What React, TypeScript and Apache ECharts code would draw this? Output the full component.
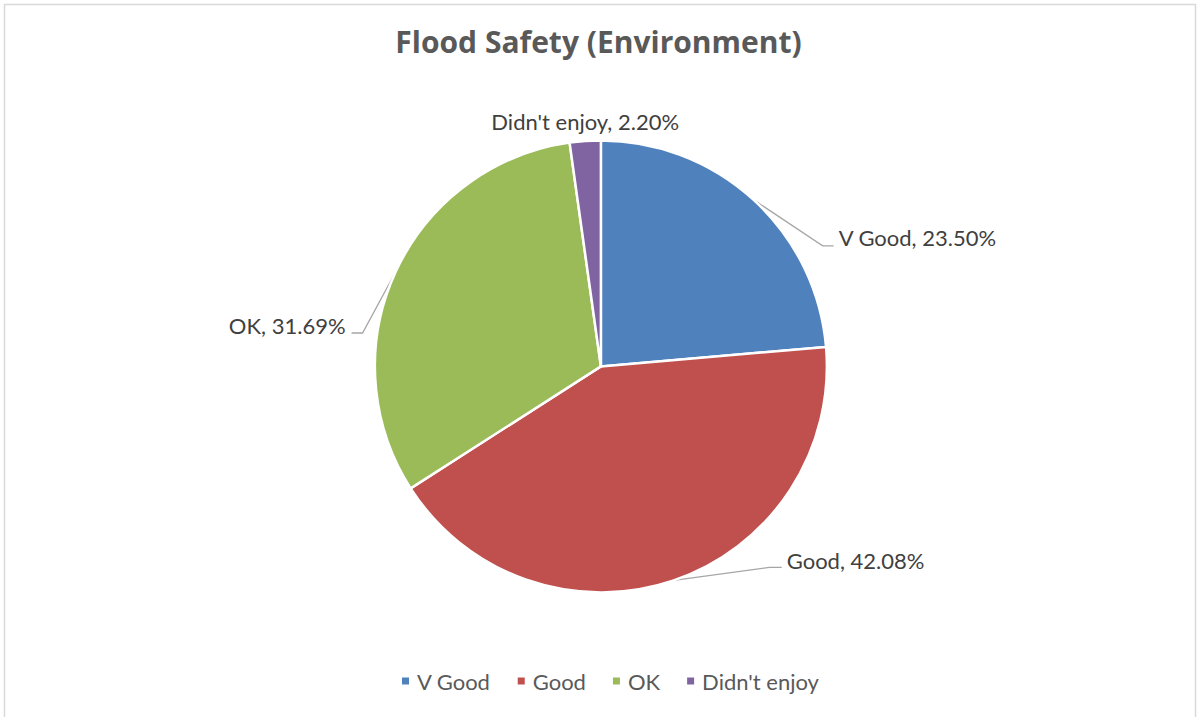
import React, { useEffect, useRef } from "react";
import * as echarts from "echarts";

const categories = ["V Good", "Good", "OK", "Didn't enjoy"];
const values = [23.5, 42.08, 31.69, 2.2];
const colors = ["#4f81bd", "#c0504d", "#9bbb59", "#8064a2"];
const titleText = "Flood Safety (Environment)";

// label placement relative to the slice's outer edge point (layout only)
const labelOffsets = [
  { dx: 85, dy: 38, align: "left", mid: [69, 46], end: [80, 46] },
  { dx: 113, dy: -20, align: "left", mid: [96, -13], end: [108, -13] },
  { dx: -50, dy: 54, align: "right", mid: [-33, 61], end: [-44, 61] },
  { dx: 0, dy: -19, align: "center", mid: [0, 0], end: [0, 0] },
];

export default function App() {
  const ref = useRef<HTMLDivElement>(null);
  useEffect(() => {
    if (!ref.current) return;
    const chart = echarts.init(ref.current, undefined, { renderer: "svg" });
    const font = "Lato, 'Open Sans', sans-serif";
    chart.setOption({
      animation: false,
      backgroundColor: "#ffffff",
      color: colors,
      title: {
        text: titleText,
        left: "center",
        top: 26,
        padding: 0,
        textStyle: { fontFamily: "'Open Sans', sans-serif", fontWeight: "bold", fontSize: 30, color: "#595959" },
      },
      legend: {
        bottom: 20,
        left: 395,
        itemWidth: 9,
        itemHeight: 9,
        itemGap: 25,
        icon: "rect",
        data: categories,
        textStyle: { fontFamily: font, fontSize: 22, color: "#595959", padding: [0, 0, 0, 2] },
      },
      graphic: [
        {
          type: "rect",
          shape: { x: 4.5, y: 4.5, width: 1191, height: 740 },
          style: { fill: "none", stroke: "#d9d9d9", lineWidth: 1.5 },
          silent: true,
        },
      ],
      series: [
        {
          type: "pie",
          center: ["50.2%", "51.1%"],
          radius: 226,
          startAngle: 90,
          clockwise: true,
          avoidLabelOverlap: false,
          itemStyle: { borderColor: "#ffffff", borderWidth: 2.5 },
          label: {
            show: true,
            position: "outside",
            fontFamily: font,
            fontSize: 22,
            color: "#404040",
            formatter: (p: any) => `${p.name}, ${Number(p.value).toFixed(2)}%`,
          },
          labelLine: {
            show: true,
            length: 10,
            length2: 10,
            smooth: false,
            lineStyle: { color: "#a6a6a6", width: 1.3 },
          },
          labelLayout: (params: any) => {
            const o = labelOffsets[params.dataIndex];
            const pts = params.labelLinePoints;
            if (!pts || !o) return {};
            const p0 = pts[0];
            return {
              x: p0[0] + o.dx,
              y: p0[1] + o.dy,
              align: o.align,
              verticalAlign: "middle",
              labelLinePoints: [
                [p0[0], p0[1]],
                [p0[0] + o.mid[0], p0[1] + o.mid[1]],
                [p0[0] + o.end[0], p0[1] + o.end[1]],
              ],
            };
          },
          emphasis: { disabled: true },
          data: categories.map((name, i) => ({ name, value: values[i] })),
        },
      ],
    });
    return () => chart.dispose();
  }, []);
  return (
    <div
      ref={ref}
      style={{ position: "fixed", left: 0, top: 0, width: 1197, height: 717 }}
    />
  );
}
